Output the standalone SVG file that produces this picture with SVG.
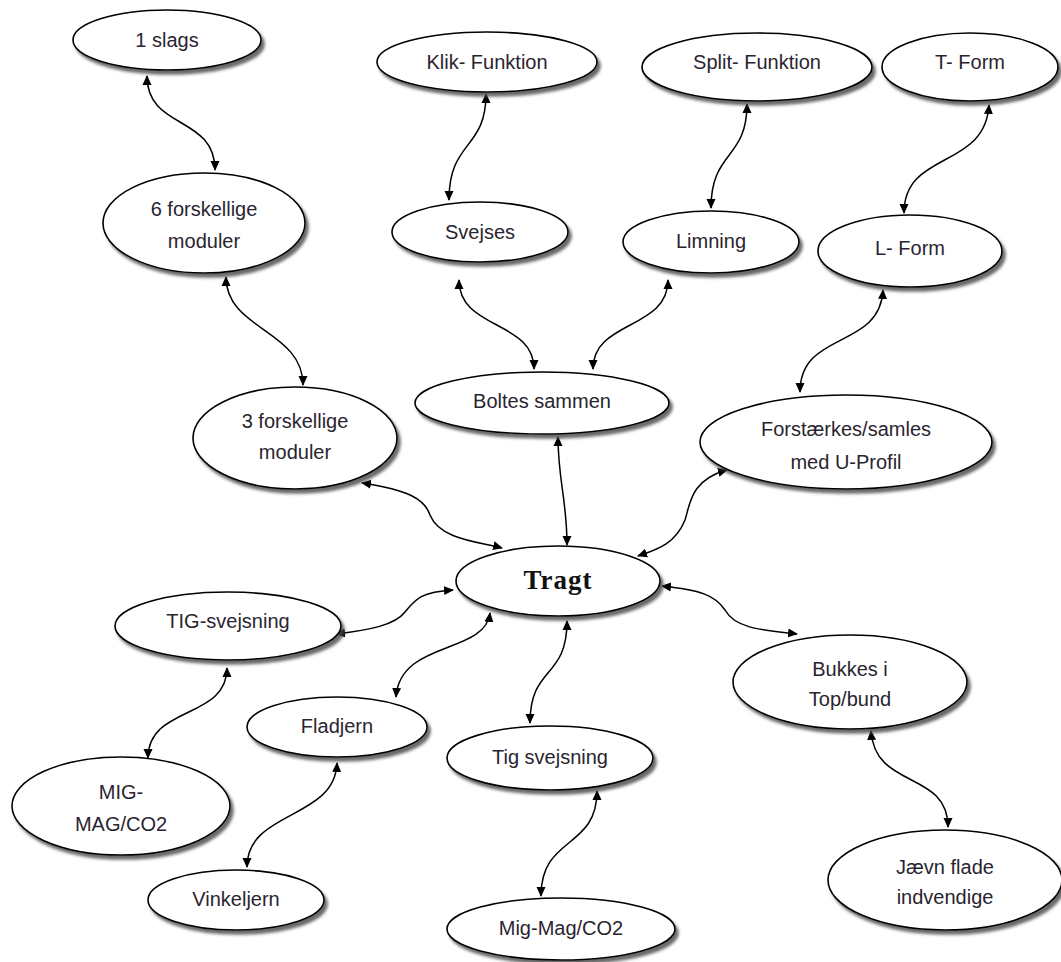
<svg xmlns="http://www.w3.org/2000/svg" width="1061" height="962" viewBox="0 0 1061 962">
<style>
.n ellipse{fill:#fff;stroke:#000;stroke-width:1.6;filter:url(#sh)}
.n text{font-family:"Liberation Sans",Arial,sans-serif;font-size:20px;fill:#2a2430;text-anchor:middle}
#tragt text{font-family:"Liberation Serif","Times New Roman",serif;font-size:27px;font-weight:bold;fill:#111;letter-spacing:1px}
#edges path{fill:none;stroke:#000;stroke-width:1.5;marker-start:url(#ah);marker-end:url(#ah)}
</style>
<defs>
<filter id="sh" x="-10%" y="-10%" width="125%" height="135%">
<feDropShadow dx="3" dy="4" stdDeviation="1.5" flood-color="#444" flood-opacity="0.8"/>
</filter>
<marker id="ah" viewBox="0 0 10 10" refX="9" refY="5" markerWidth="10" markerHeight="10" markerUnits="userSpaceOnUse" orient="auto-start-reverse">
<path d="M0,0.5 L10,5 L0,9.5 Z" fill="#000"/>
</marker>
</defs>
<rect width="1061" height="962" fill="#fff"/>
<g id="edges">
<path d="M147,76 C147,130 215,115 215,170"/>
<path d="M226,277 C226,330 303,330 303,385"/>
<path d="M486,94 C486,150 449,140 449,200"/>
<path d="M747,104 C747,160 711,150 711,208"/>
<path d="M989,105 C985,170 904,150 904,213"/>
<path d="M459,280 C459,330 534,320 534,369"/>
<path d="M668,280 C668,330 593,320 593,369"/>
<path d="M883,290 C880,350 800,330 800,392"/>
<path d="M362,483 C410,490 425,500 430,515 C440,540 480,542 502,548"/>
<path d="M558,437 C558,480 567,500 567,545"/>
<path d="M727,470 C690,480 690,505 685,520 C675,545 655,550 638,556"/>
<path d="M662,586 C700,590 715,595 725,610 C735,628 760,630 797,634"/>
<path d="M871,731 C875,790 948,770 948,827"/>
<path d="M453,590 C420,592 415,600 405,612 C395,625 370,630 336,634"/>
<path d="M227,668 C227,720 148,705 148,758"/>
<path d="M490,613 C485,655 400,640 396,697"/>
<path d="M567,621 C567,680 530,665 530,723"/>
<path d="M597,791 C597,850 541,835 541,896"/>
<path d="M337,763 C335,820 247,810 247,867"/>
</g>
<g id="n1" class="n"><ellipse cx="167" cy="40" rx="94" ry="30"/><text x="167" y="47">1 slags</text></g>
<g id="n2" class="n"><ellipse cx="204" cy="223" rx="101" ry="50"/><text x="204" y="216">6 forskellige</text><text x="204" y="248">moduler</text></g>
<g id="n3" class="n"><ellipse cx="487" cy="62" rx="110" ry="30"/><text x="487" y="69">Klik- Funktion</text></g>
<g id="n4" class="n"><ellipse cx="757" cy="67" rx="115" ry="34"/><text x="757" y="69">Split- Funktion</text></g>
<g id="n5" class="n"><ellipse cx="970" cy="67" rx="88" ry="34"/><text x="970" y="69">T- Form</text></g>
<g id="n6" class="n"><ellipse cx="480" cy="232" rx="88" ry="30"/><text x="480" y="239">Svejses</text></g>
<g id="n7" class="n"><ellipse cx="711" cy="242" rx="88" ry="31"/><text x="711" y="248">Limning</text></g>
<g id="n8" class="n"><ellipse cx="910" cy="251" rx="92" ry="36"/><text x="910" y="255">L- Form</text></g>
<g id="n9" class="n"><ellipse cx="542" cy="403" rx="127" ry="31"/><text x="542" y="408">Boltes sammen</text></g>
<g id="n10" class="n"><ellipse cx="295" cy="438" rx="102" ry="51"/><text x="295" y="428">3 forskellige</text><text x="295" y="459">moduler</text></g>
<g id="n11" class="n"><ellipse cx="846" cy="442" rx="146" ry="47"/><text x="846" y="436">Forstærkes/samles</text><text x="846" y="469">med U-Profil</text></g>
<g id="tragt" class="n"><ellipse cx="558" cy="581" rx="102" ry="35"/><text x="558" y="589">Tragt</text></g>
<g id="n13" class="n"><ellipse cx="228" cy="626" rx="113" ry="34"/><text x="228" y="628">TIG-svejsning</text></g>
<g id="n14" class="n"><ellipse cx="337" cy="727" rx="90" ry="30"/><text x="337" y="733">Fladjern</text></g>
<g id="n15" class="n"><ellipse cx="121" cy="806" rx="109" ry="49"/><text x="121" y="799">MIG-</text><text x="121" y="831">MAG/CO2</text></g>
<g id="n16" class="n"><ellipse cx="236" cy="900" rx="88" ry="30"/><text x="236" y="906">Vinkeljern</text></g>
<g id="n17" class="n"><ellipse cx="550" cy="758" rx="103" ry="32"/><text x="550" y="764">Tig svejsning</text></g>
<g id="n18" class="n"><ellipse cx="561" cy="929" rx="114" ry="31"/><text x="561" y="935">Mig-Mag/CO2</text></g>
<g id="n19" class="n"><ellipse cx="850" cy="682" rx="117" ry="47"/><text x="850" y="676">Bukkes i</text><text x="850" y="706">Top/bund</text></g>
<g id="n20" class="n"><ellipse cx="945" cy="880" rx="117" ry="50"/><text x="945" y="874">Jævn flade</text><text x="945" y="904">indvendige</text></g>
</svg>
